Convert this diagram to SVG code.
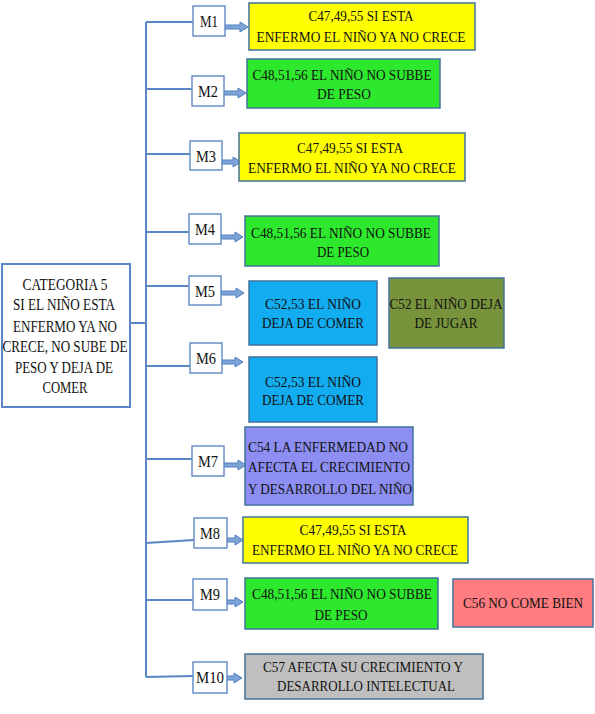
<svg xmlns="http://www.w3.org/2000/svg" width="595" height="714" viewBox="0 0 595 714">
<style>
text{font-family:"Liberation Serif","Times New Roman",serif;fill:#111;text-anchor:middle}
.c{font-size:15px}
.m{font-size:16px}
.t{font-size:16px}
.box{stroke:#41719c;stroke-width:1.5}
.mb{fill:#fff;stroke:#6a90c6;stroke-width:1.5}
.ln{stroke:#5b86c5;stroke-width:2;fill:none}
.ar{fill:#7ea4d8;stroke:#4f7fc0;stroke-width:1}
.y{fill:#ffff00}.g{fill:#2ee82e}.b{fill:#12acf0}.o{fill:#77933c}.p{fill:#8c8ef2}.r{fill:#ff7c80}.s{fill:#bfbfbf}
</style>
<rect width="595" height="714" fill="#fff"/>
<g id="connectors">
<path class="ln" d="M146 22 V677 M130 323 H146 M146 22 H193 M146 89 H192 M146 154 H190 M146 232 H189 M146 286 H189 M146 366 H190 M146 459 H192 M146 543 L194 540 M146 600 H193 M146 677 L193 676"/>
<polygon class="ar" points="225,25 240,25 240,22 248,27 240,32 240,29 225,29"/>
<polygon class="ar" points="224,91 238,91 238,88 246,93 238,98 238,95 224,95"/>
<polygon class="ar" points="222,160 233,160 233,157 241,162 233,167 233,164 222,164"/>
<polygon class="ar" points="221,235 235,235 235,232 243,237 235,242 235,239 221,239"/>
<polygon class="ar" points="221,291 236,291 236,288 244,293 236,298 236,295 221,295"/>
<polygon class="ar" points="222,360 235,360 235,357 243,362 235,367 235,364 222,364"/>
<polygon class="ar" points="224,463 238,463 238,460 246,465 238,470 238,467 224,467"/>
<polygon class="ar" points="227,538 235,538 235,535 243,540 235,545 235,542 227,542"/>
<polygon class="ar" points="227,600 235,600 235,597 243,602 235,607 235,604 227,604"/>
<polygon class="ar" points="227,676 234,676 234,673 242,678 234,683 234,680 227,680"/>
</g>
<g id="main">
<rect x="2" y="264" width="128" height="143" fill="#fff" stroke="#5b86c5" stroke-width="2"/>
<text class="t" x="65" y="290" textLength="85" lengthAdjust="spacingAndGlyphs">CATEGORIA 5</text>
<text class="t" x="64" y="310" textLength="102" lengthAdjust="spacingAndGlyphs">SI EL NIÑO ESTA</text>
<text class="t" x="65" y="332" textLength="104" lengthAdjust="spacingAndGlyphs">ENFERMO YA NO</text>
<text class="t" x="65" y="352" textLength="125" lengthAdjust="spacingAndGlyphs">CRECE, NO SUBE DE</text>
<text class="t" x="64" y="373" textLength="98" lengthAdjust="spacingAndGlyphs">PESO Y DEJA DE</text>
<text class="t" x="65" y="393" textLength="45" lengthAdjust="spacingAndGlyphs">COMER</text>
</g>
<g id="M1"><rect class="mb" x="193" y="6" width="32" height="30"/><text class="m" x="209" y="27" textLength="18" lengthAdjust="spacingAndGlyphs">M1</text></g>
<g id="M2"><rect class="mb" x="192" y="76" width="32" height="30"/><text class="m" x="208" y="97" textLength="20" lengthAdjust="spacingAndGlyphs">M2</text></g>
<g id="M3"><rect class="mb" x="190" y="141" width="32" height="29"/><text class="m" x="206" y="162" textLength="20" lengthAdjust="spacingAndGlyphs">M3</text></g>
<g id="M4"><rect class="mb" x="189" y="214" width="32" height="30"/><text class="m" x="205" y="235" textLength="20" lengthAdjust="spacingAndGlyphs">M4</text></g>
<g id="M5"><rect class="mb" x="189" y="276" width="32" height="29"/><text class="m" x="205" y="297" textLength="20" lengthAdjust="spacingAndGlyphs">M5</text></g>
<g id="M6"><rect class="mb" x="190" y="343" width="32" height="30"/><text class="m" x="206" y="364" textLength="20" lengthAdjust="spacingAndGlyphs">M6</text></g>
<g id="M7"><rect class="mb" x="192" y="446" width="32" height="30"/><text class="m" x="208" y="467" textLength="20" lengthAdjust="spacingAndGlyphs">M7</text></g>
<g id="M8"><rect class="mb" x="194" y="518" width="33" height="30"/><text class="m" x="210" y="539" textLength="20" lengthAdjust="spacingAndGlyphs">M8</text></g>
<g id="M9"><rect class="mb" x="193" y="579" width="34" height="31"/><text class="m" x="210" y="600" textLength="20" lengthAdjust="spacingAndGlyphs">M9</text></g>
<g id="M10"><rect class="mb" x="193" y="662" width="34" height="31"/><text class="m" x="210" y="683" textLength="28" lengthAdjust="spacingAndGlyphs">M10</text></g>
<g id="C1"><rect class="box y" x="249" y="3" width="226" height="47"/>
<text class="c" x="361" y="21" textLength="105" lengthAdjust="spacingAndGlyphs">C47,49,55 SI ESTA</text>
<text class="c" x="361" y="42" textLength="209" lengthAdjust="spacingAndGlyphs">ENFERMO EL NIÑO YA NO CRECE</text></g>
<g id="C2"><rect class="box g" x="247" y="59" width="193" height="49"/>
<text class="c" x="342" y="80" textLength="179" lengthAdjust="spacingAndGlyphs">C48,51,56 EL NIÑO NO SUBBE</text>
<text class="c" x="344" y="99" textLength="54" lengthAdjust="spacingAndGlyphs">DE PESO</text></g>
<g id="C3"><rect class="box y" x="239" y="133" width="226" height="48"/>
<text class="c" x="350" y="153" textLength="106" lengthAdjust="spacingAndGlyphs">C47,49,55 SI ESTA</text>
<text class="c" x="352" y="173" textLength="208" lengthAdjust="spacingAndGlyphs">ENFERMO EL NIÑO YA NO CRECE</text></g>
<g id="C4"><rect class="box g" x="245" y="216" width="194" height="50"/>
<text class="c" x="341" y="238" textLength="180" lengthAdjust="spacingAndGlyphs">C48,51,56 EL NIÑO NO SUBBE</text>
<text class="c" x="343" y="257" textLength="52" lengthAdjust="spacingAndGlyphs">DE PESO</text></g>
<g id="C5"><rect class="box b" x="249" y="281" width="128" height="64"/>
<text class="c" x="313" y="309" textLength="96" lengthAdjust="spacingAndGlyphs">C52,53 EL NIÑO</text>
<text class="c" x="313" y="328" textLength="102" lengthAdjust="spacingAndGlyphs">DEJA DE COMER</text></g>
<g id="C5b"><rect class="box o" x="389" y="278" width="115" height="70"/>
<text class="c" x="446" y="309" textLength="113" lengthAdjust="spacingAndGlyphs">C52 EL NIÑO DEJA</text>
<text class="c" x="446" y="328" textLength="63" lengthAdjust="spacingAndGlyphs">DE JUGAR</text></g>
<g id="C6"><rect class="box b" x="249" y="357" width="128" height="65"/>
<text class="c" x="313" y="387" textLength="96" lengthAdjust="spacingAndGlyphs">C52,53 EL NIÑO</text>
<text class="c" x="313" y="405" textLength="102" lengthAdjust="spacingAndGlyphs">DEJA DE COMER</text></g>
<g id="C7"><rect class="box p" x="245" y="427" width="168" height="78"/>
<text class="c" x="328" y="452" textLength="160" lengthAdjust="spacingAndGlyphs">C54 LA ENFERMEDAD NO</text>
<text class="c" x="329" y="472" textLength="162" lengthAdjust="spacingAndGlyphs">AFECTA EL CRECIMIENTO</text>
<text class="c" x="330" y="494" textLength="164" lengthAdjust="spacingAndGlyphs">Y DESARROLLO DEL NIÑO</text></g>
<g id="C8"><rect class="box y" x="243" y="517" width="225" height="46"/>
<text class="c" x="353" y="535" textLength="107" lengthAdjust="spacingAndGlyphs">C47,49,55 SI ESTA</text>
<text class="c" x="355" y="555" textLength="206" lengthAdjust="spacingAndGlyphs">ENFERMO EL NIÑO YA NO CRECE</text></g>
<g id="C9"><rect class="box g" x="245" y="578" width="193" height="51"/>
<text class="c" x="342" y="599" textLength="180" lengthAdjust="spacingAndGlyphs">C48,51,56 EL NIÑO NO SUBBE</text>
<text class="c" x="341" y="620" textLength="53" lengthAdjust="spacingAndGlyphs">DE PESO</text></g>
<g id="C9b"><rect class="box r" x="453" y="579" width="140" height="48"/>
<text x="523" y="608" font-size="14" textLength="120" lengthAdjust="spacingAndGlyphs">C56 NO COME BIEN</text></g>
<g id="C10"><rect class="box s" x="245" y="654" width="238" height="45"/>
<text class="c" x="363" y="672" textLength="200" lengthAdjust="spacingAndGlyphs">C57 AFECTA SU CRECIMIENTO Y</text>
<text class="c" x="366" y="691" textLength="178" lengthAdjust="spacingAndGlyphs">DESARROLLO INTELECTUAL</text></g>
</svg>
